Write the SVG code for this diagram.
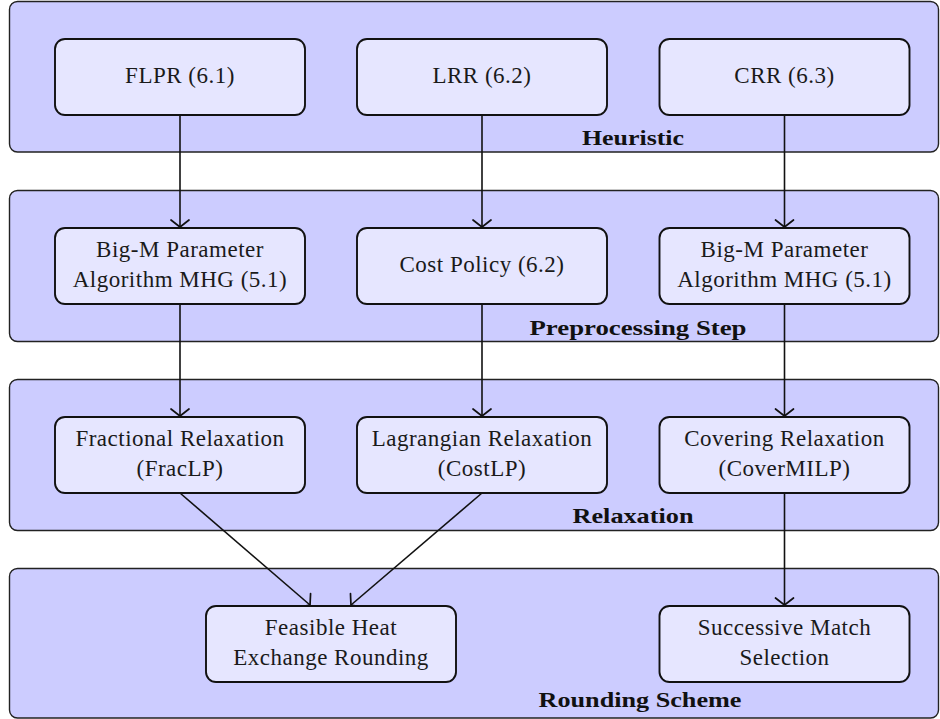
<svg xmlns="http://www.w3.org/2000/svg" width="940" height="719" viewBox="0 0 940 719">
<style>
.band{fill:#ccccff;stroke:#222;stroke-width:1.4}
.node{fill:#e6e6ff;stroke:#111;stroke-width:1.9}
.t{font-size:23px;letter-spacing:0.5px;fill:#1a1a1a;text-anchor:middle}
.lab{font-size:22px;font-weight:bold;fill:#111;text-anchor:middle}
.edge{fill:none;stroke:#111;stroke-width:1.6}
</style>
<defs>
<marker id="arr" markerUnits="userSpaceOnUse" viewBox="-10 -10 12 20" refX="0" refY="0" markerWidth="12" markerHeight="20" orient="auto" overflow="visible">
<path d="M-7,-9 Q-1.5,-2 0,0 Q-1.5,2 -7,9" fill="none" stroke="#111" stroke-width="1.7" stroke-linecap="round"/>
</marker>
</defs>
<g font-family="Liberation Serif, DejaVu Serif, serif">
<g id="band-heuristic"><rect class="band" x="9.5" y="1.5" width="929" height="150.5" rx="8"/><text class="lab" x="633" y="145" textLength="102" lengthAdjust="spacingAndGlyphs">Heuristic</text></g>
<g id="band-preprocessing"><rect class="band" x="9.5" y="190.5" width="929" height="151" rx="8"/><text class="lab" x="638" y="335" textLength="217" lengthAdjust="spacingAndGlyphs">Preprocessing Step</text></g>
<g id="band-relaxation"><rect class="band" x="9.5" y="379.5" width="929" height="151" rx="8"/><text class="lab" x="633" y="523" textLength="121" lengthAdjust="spacingAndGlyphs">Relaxation</text></g>
<g id="band-rounding"><rect class="band" x="9.5" y="568.5" width="929" height="149.5" rx="8"/><text class="lab" x="640" y="707" textLength="203" lengthAdjust="spacingAndGlyphs">Rounding Scheme</text></g>

<g id="connectors">
<line class="edge" x1="180" y1="115" x2="180" y2="227" marker-end="url(#arr)"/>
<line class="edge" x1="482" y1="115" x2="482" y2="227" marker-end="url(#arr)"/>
<line class="edge" x1="784.5" y1="115" x2="784.5" y2="227" marker-end="url(#arr)"/>
<line class="edge" x1="180" y1="304" x2="180" y2="416" marker-end="url(#arr)"/>
<line class="edge" x1="482" y1="304" x2="482" y2="416" marker-end="url(#arr)"/>
<line class="edge" x1="784.5" y1="304" x2="784.5" y2="416" marker-end="url(#arr)"/>
<line class="edge" x1="180" y1="493" x2="310" y2="605" marker-end="url(#arr)"/>
<line class="edge" x1="482" y1="493" x2="351" y2="605" marker-end="url(#arr)"/>
<line class="edge" x1="784.5" y1="493" x2="784.5" y2="605" marker-end="url(#arr)"/>
</g>

<g id="flpr"><rect class="node" x="55" y="39" width="250" height="76" rx="10"/><text class="t" x="180" y="82.5">FLPR (6.1)</text></g>
<g id="lrr"><rect class="node" x="357" y="39" width="250" height="76" rx="10"/><text class="t" x="482" y="82.5">LRR (6.2)</text></g>
<g id="crr"><rect class="node" x="659.5" y="39" width="250" height="76" rx="10"/><text class="t" x="784.5" y="82.5">CRR (6.3)</text></g>

<g id="bigm1"><rect class="node" x="55" y="228" width="250" height="76" rx="10"/><text class="t" x="180" y="257">Big-M Parameter</text><text class="t" x="180" y="287">Algorithm MHG (5.1)</text></g>
<g id="cost"><rect class="node" x="357" y="228" width="250" height="76" rx="10"/><text class="t" x="482" y="271.5">Cost Policy (6.2)</text></g>
<g id="bigm2"><rect class="node" x="659.5" y="228" width="250" height="76" rx="10"/><text class="t" x="784.5" y="257">Big-M Parameter</text><text class="t" x="784.5" y="287">Algorithm MHG (5.1)</text></g>

<g id="frac"><rect class="node" x="55" y="417" width="250" height="76" rx="10"/><text class="t" x="180" y="446">Fractional Relaxation</text><text class="t" x="180" y="476">(FracLP)</text></g>
<g id="lag"><rect class="node" x="357" y="417" width="250" height="76" rx="10"/><text class="t" x="482" y="446">Lagrangian Relaxation</text><text class="t" x="482" y="476">(CostLP)</text></g>
<g id="cover"><rect class="node" x="659.5" y="417" width="250" height="76" rx="10"/><text class="t" x="784.5" y="446">Covering Relaxation</text><text class="t" x="784.5" y="476">(CoverMILP)</text></g>

<g id="feasible"><rect class="node" x="206" y="606" width="250" height="76" rx="10"/><text class="t" x="331" y="635">Feasible Heat</text><text class="t" x="331" y="665">Exchange Rounding</text></g>
<g id="successive"><rect class="node" x="659.5" y="606" width="250" height="76" rx="10"/><text class="t" x="784.5" y="635">Successive Match</text><text class="t" x="784.5" y="665">Selection</text></g>
</g>
</svg>
